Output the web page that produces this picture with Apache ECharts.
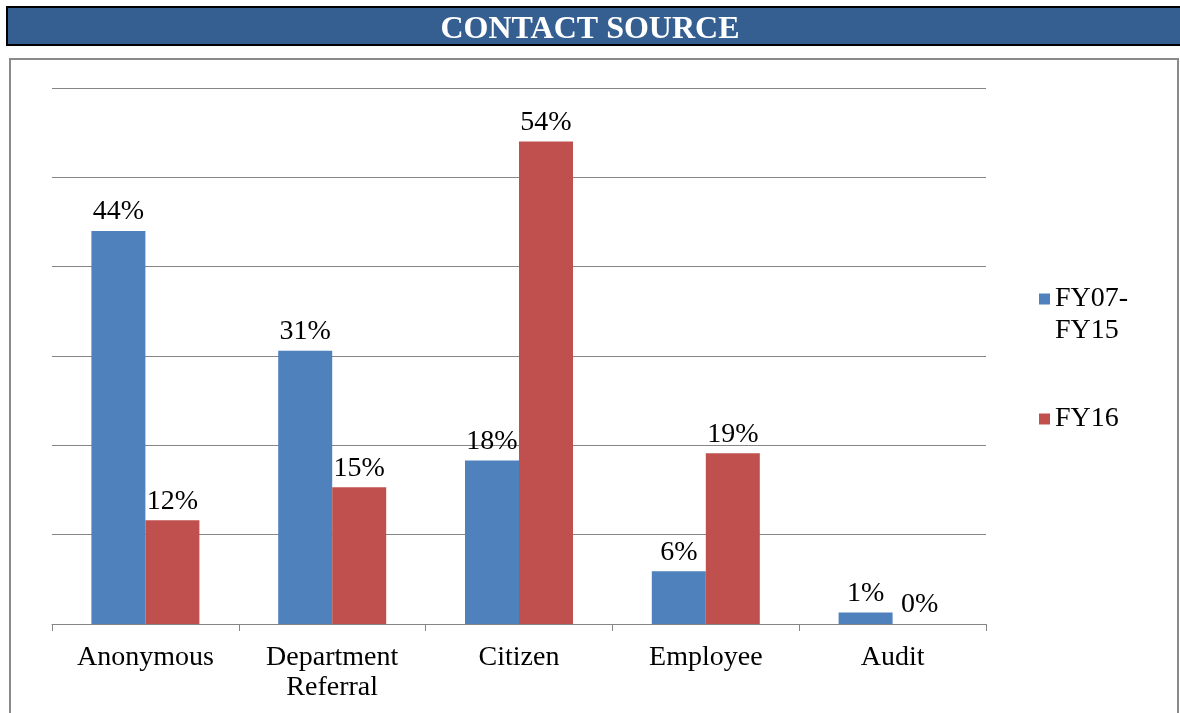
<!DOCTYPE html>
<html>
  <head>
    <meta charset="utf-8" />
    <title>Contact Source</title>
    <script src="https://cdn.jsdelivr.net/npm/echarts@6/dist/echarts.min.js"></script>
  </head>
  <body style="margin:0">
    <div id="main" style="width:1180px;height:713px;background-color:white"></div>
    <script type="text/javascript">
      // categories and values (percent)
      var categories = ['Anonymous', 'Department\nReferral', 'Citizen', 'Employee', 'Audit'];
      var fy07fy15 = [44.0, 30.6, 18.3, 5.9, 1.3];
      var fy16 = [11.6, 15.3, 54.0, 19.1, 0];
      var seriesNames = ['FY07-FY15', 'FY16'];

      var myChart = echarts.init(document.getElementById('main'));
      var font = '"Liberation Serif", "Times New Roman", serif';

      var labelOpt = {
        show: true,
        position: 'top',
        color: '#000',
        fontFamily: font,
        fontSize: 28,
        formatter: function (p) { return Math.round(p.value) + '%'; }
      };

      var option = {
        animation: false,
        backgroundColor: '#fff',
        title: {
          text: 'CONTACT SOURCE',
          left: 'center',
          top: 6,
          textStyle: {
            color: '#fff',
            fontFamily: font,
            fontWeight: 'bold',
            fontSize: 32,
            lineHeight: 38
          }
        },
        graphic: [
          {
            type: 'rect',
            z: -1,
            shape: { x: 7, y: 7, width: 1180, height: 38 },
            style: { fill: '#365f91', stroke: '#000', lineWidth: 2 }
          },
          {
            type: 'rect',
            z: -1,
            shape: { x: 10, y: 59, width: 1168, height: 700 },
            style: { fill: 'none', stroke: '#8a8a8a', lineWidth: 2 }
          }
        ],
        legend: [
          {
            left: 1034,
            top: 246,
            orient: 'vertical',
            itemWidth: 11,
            itemHeight: 11,
            icon: 'rect',
            data: [seriesNames[0]],
            // leading blank line keeps the icon level with the first text line
            formatter: function () { return ' \nFY07-\nFY15'; },
            textStyle: { fontFamily: font, fontSize: 28, color: '#000', lineHeight: 32 }
          },
          {
            left: 1034,
            top: 398,
            orient: 'vertical',
            itemWidth: 11,
            itemHeight: 11,
            icon: 'rect',
            data: [seriesNames[1]],
            textStyle: { fontFamily: font, fontSize: 28, color: '#000', lineHeight: 32 }
          }
        ],
        grid: { left: 52, right: 194, top: 88, bottom: 89 },
        xAxis: {
          type: 'category',
          data: categories,
          axisLine: { lineStyle: { color: '#868686', width: 1 } },
          axisTick: { show: true, length: 7, lineStyle: { color: '#868686' } },
          axisLabel: {
            color: '#000',
            fontFamily: font,
            fontSize: 28,
            lineHeight: 30,
            margin: 19
          }
        },
        yAxis: {
          type: 'value',
          min: 0,
          max: 60,
          interval: 10,
          axisLabel: { show: false },
          axisLine: { show: false },
          axisTick: { show: false },
          splitLine: { lineStyle: { color: '#868686', width: 1 } }
        },
        series: [
          {
            name: seriesNames[0],
            type: 'bar',
            data: fy07fy15,
            barWidth: 54,
            barGap: '0%',
            itemStyle: { color: '#4f81bd' },
            label: labelOpt
          },
          {
            name: seriesNames[1],
            type: 'bar',
            data: fy16,
            barWidth: 54,
            barGap: '0%',
            itemStyle: { color: '#c0504d' },
            label: labelOpt
          }
        ]
      };

      myChart.setOption(option);
    </script>
  </body>
</html>
